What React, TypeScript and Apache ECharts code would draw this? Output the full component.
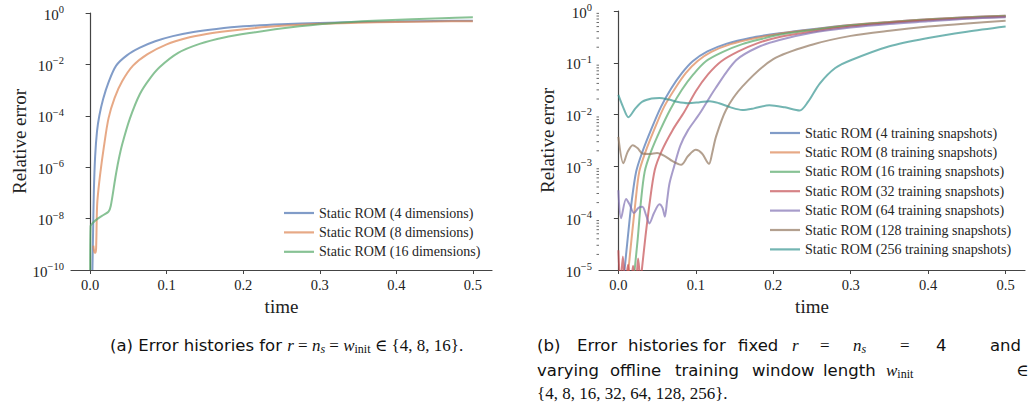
import React, { useEffect, useRef } from "react";
import * as echarts from "echarts";

const SERIF = "'Liberation Serif', 'DejaVu Serif', serif";
const SANS = "'DejaVu Sans', 'Liberation Sans', sans-serif";

// tick values
const timeTicks = [0, 0.1, 0.2, 0.3, 0.4, 0.5];
const errTicksA = [1e-10, 1e-8, 1e-6, 1e-4, 1e-2, 1];
const errTicksB = [1e-5, 1e-4, 1e-3, 1e-2, 1e-1, 1];

// ---- panel (a): [time, log10(relative error)] ----
const rom4Dims = [
  [0.003, -10], [0.0038, -8.6], [0.0048, -7.0], [0.0065, -5.6], [0.009, -4.6], [0.012, -4.0],
  [0.017, -3.35], [0.024, -2.7], [0.034, -2.05], [0.048, -1.65], [0.065, -1.35], [0.085, -1.1],
  [0.108, -0.9], [0.135, -0.74], [0.165, -0.62], [0.2, -0.52], [0.25, -0.44], [0.3, -0.39],
  [0.35, -0.35], [0.4, -0.33], [0.45, -0.31], [0.5, -0.3],
];
const rom8Dims = [
  [0.0042, -9.05], [0.0055, -9.3], [0.0068, -9.33], [0.0078, -9.15], [0.0087, -7.9], [0.0095, -7.3],
  [0.013, -6.3], [0.018, -5.2], [0.024, -4.1], [0.032, -3.3], [0.042, -2.65], [0.056, -2.05],
  [0.075, -1.6], [0.1, -1.22], [0.125, -0.98], [0.152, -0.82], [0.18, -0.7], [0.21, -0.6],
  [0.25, -0.5], [0.3, -0.42], [0.35, -0.38], [0.4, -0.35], [0.45, -0.33], [0.5, -0.32],
];
const rom16Dims = [
  [0, -10], [0.0006, -8.3], [0.004, -8.15], [0.01, -8.0], [0.018, -7.85], [0.024, -7.73],
  [0.027, -7.5], [0.033, -6.4], [0.037, -5.75], [0.042, -5.1], [0.052, -4.1], [0.065, -3.15],
  [0.078, -2.55], [0.091, -2.1], [0.115, -1.55], [0.143, -1.2], [0.175, -0.95], [0.213, -0.76],
  [0.26, -0.56], [0.32, -0.39], [0.37, -0.3], [0.42, -0.24], [0.46, -0.2], [0.5, -0.17],
];

// ---- panel (b): [time, log10(relative error)] ----
const snap4 = [
  [0.0055, -5.4], [0.008, -5.0], [0.012, -4.4], [0.017, -3.7], [0.023, -3.1], [0.031, -2.72],
  [0.042, -2.3], [0.055, -1.85], [0.068, -1.5], [0.082, -1.2], [0.096, -0.97], [0.115, -0.78],
  [0.14, -0.63], [0.17, -0.52], [0.208, -0.43], [0.25, -0.35], [0.3, -0.27], [0.35, -0.21],
  [0.4, -0.16], [0.45, -0.12], [0.5, -0.09],
];
const snap8 = [
  [0.0105, -5.4], [0.013, -5.0], [0.017, -4.4], [0.022, -3.7], [0.027, -3.1], [0.035, -2.72],
  [0.046, -2.3], [0.059, -1.85], [0.073, -1.5], [0.087, -1.2], [0.102, -0.97], [0.12, -0.79],
  [0.145, -0.64], [0.175, -0.53], [0.208, -0.44], [0.25, -0.36], [0.3, -0.27], [0.35, -0.21],
  [0.4, -0.16], [0.45, -0.12], [0.5, -0.09],
];
const snap16 = [
  [0.0185, -5.4], [0.021, -5.0], [0.025, -4.4], [0.029, -3.7], [0.034, -3.1], [0.042, -2.72],
  [0.054, -2.3], [0.067, -1.9], [0.082, -1.52], [0.097, -1.22], [0.113, -0.97], [0.135, -0.79],
  [0.16, -0.64], [0.185, -0.54], [0.208, -0.46], [0.25, -0.37], [0.3, -0.28], [0.35, -0.22],
  [0.4, -0.17], [0.45, -0.13], [0.5, -0.1],
];
const snap32 = [
  [0, -4.62], [0.0028, -5.3], [0.0058, -4.74], [0.009, -5.3], [0.0125, -4.9], [0.016, -5.3],
  [0.019, -4.92], [0.0225, -5.3], [0.0255, -4.78], [0.0285, -5.2], [0.031, -4.9], [0.035, -4.35],
  [0.04, -3.75], [0.047, -3.07], [0.056, -2.7], [0.07, -2.3], [0.085, -1.95], [0.1, -1.55],
  [0.116, -1.22], [0.133, -0.97], [0.155, -0.78], [0.18, -0.62], [0.208, -0.5], [0.25, -0.4],
  [0.3, -0.3], [0.35, -0.23], [0.4, -0.18], [0.45, -0.14], [0.5, -0.11],
];
const snap64 = [
  [0, -3.46], [0.0035, -4.0], [0.01, -3.63], [0.015, -3.75], [0.02, -3.9], [0.026, -3.8],
  [0.031, -3.78], [0.036, -3.95], [0.04, -4.1], [0.046, -3.9], [0.053, -3.73], [0.057, -3.8],
  [0.06, -3.97], [0.063, -3.65], [0.066, -3.33], [0.072, -3.0], [0.08, -2.6], [0.09, -2.3],
  [0.105, -1.98], [0.125, -1.5], [0.152, -0.95], [0.18, -0.7], [0.208, -0.56], [0.25, -0.42],
  [0.3, -0.32], [0.35, -0.25], [0.4, -0.2], [0.45, -0.15], [0.5, -0.12],
];
const snap128 = [
  [0, -2.43], [0.0065, -2.94], [0.012, -2.72], [0.0185, -2.59], [0.025, -2.65], [0.031, -2.75],
  [0.04, -2.76], [0.05, -2.74], [0.06, -2.8], [0.07, -2.9], [0.081, -2.97], [0.09, -2.8],
  [0.1, -2.68], [0.108, -2.75], [0.117, -2.95], [0.121, -2.75], [0.126, -2.43], [0.139, -1.91],
  [0.16, -1.46], [0.2, -0.93], [0.25, -0.65], [0.3, -0.48], [0.35, -0.38], [0.4, -0.3],
  [0.45, -0.24], [0.5, -0.19],
];
const snap256 = [
  [0, -1.62], [0.006, -1.85], [0.013, -2.05], [0.022, -1.88], [0.031, -1.75], [0.043, -1.69],
  [0.053, -1.68], [0.065, -1.71], [0.075, -1.75], [0.09, -1.78], [0.105, -1.76], [0.118, -1.74],
  [0.13, -1.78], [0.145, -1.86], [0.16, -1.91], [0.175, -1.88], [0.195, -1.82], [0.215, -1.86],
  [0.234, -1.92], [0.245, -1.75], [0.26, -1.4], [0.28, -1.1], [0.3, -0.95], [0.35, -0.68],
  [0.4, -0.52], [0.45, -0.4], [0.5, -0.3],
];

const namesA = ["Static ROM (4 dimensions)", "Static ROM (8 dimensions)", "Static ROM (16 dimensions)"];
const namesB = [
  "Static ROM (4 training snapshots)", "Static ROM (8 training snapshots)",
  "Static ROM (16 training snapshots)", "Static ROM (32 training snapshots)",
  "Static ROM (64 training snapshots)", "Static ROM (128 training snapshots)",
  "Static ROM (256 training snapshots)",
];
const seriesA = [rom4Dims, rom8Dims, rom16Dims];
const seriesB = [snap4, snap8, snap16, snap32, snap64, snap128, snap256];
const palette = [
  "rgba(76,114,176,0.7)", "rgba(221,132,82,0.7)", "rgba(85,168,104,0.7)",
  "rgba(196,78,82,0.7)", "rgba(129,114,179,0.7)", "rgba(147,120,96,0.7)",
  "rgba(55,150,145,0.7)",
];
const minorDecadesB = [1e-5, 1e-4, 1e-3, 1e-2, 1e-1];
const minorMultipliers = [2, 3, 4, 5, 6, 7, 8, 9];

const AX = "#444";
const TXT = "#222";

function expLabel(v: number) {
  const e = Math.round(Math.log10(v));
  const s = e < 0 ? "\u2212" + Math.abs(e) : String(e);
  return `{b|10}{s|${s}}`;
}
const expRich = {
  b: { fontFamily: SERIF, fontSize: 15, color: TXT, lineHeight: 18, padding: [3, 0, 0, 0] },
  s: { fontFamily: SERIF, fontSize: 10.5, color: TXT, lineHeight: 10, verticalAlign: "top" },
};

function xAxisCfg(gridIndex: number) {
  return {
    gridIndex, type: "value", min: -0.025, max: 0.525,
    axisLine: { show: true, lineStyle: { color: AX, width: 1.2 } },
    axisTick: { show: true, customValues: timeTicks, length: 4, lineStyle: { color: AX, width: 1 } },
    axisLabel: {
      customValues: timeTicks, formatter: (v: number) => v.toFixed(1), margin: 7,
      fontFamily: SERIF, fontSize: 14.5, color: TXT,
    },
    splitLine: { show: false },
    name: "time", nameLocation: "middle", nameGap: 21,
    nameTextStyle: { fontFamily: SERIF, fontSize: 19, color: TXT, verticalAlign: "top" },
  };
}
function yAxisCfg(gridIndex: number, ticks: number[], gap: number) {
  return {
    gridIndex, type: "log", logBase: 10, min: ticks[0], max: 1,
    axisLine: { show: true, lineStyle: { color: AX, width: 1.2 } },
    axisTick: { show: true, customValues: ticks, length: 4.5, lineStyle: { color: AX, width: 1 } },
    axisLabel: { customValues: ticks, formatter: expLabel, rich: expRich, margin: 7 },
    splitLine: { show: false },
    minorTick: { show: false },
    name: "Relative error", nameLocation: "middle", nameGap: gap, nameRotate: 90,
    nameTextStyle: { fontFamily: SERIF, fontSize: 19, color: TXT },
  };
}

function lineSeries(name: string, pts: number[][], color: string, idx: number) {
  return {
    type: "line", name, xAxisIndex: idx, yAxisIndex: idx,
    data: pts.map(([t, e]) => [t, Math.pow(10, e)]),
    symbol: "none", showSymbol: false, smooth: 0.3, clip: true,
    lineStyle: { width: 2, color }, itemStyle: { color },
  };
}

const capRich = {
  t: { fontFamily: SANS, fontSize: 16.5, lineHeight: 20, fill: "#111" },
  i: { fontFamily: SERIF, fontStyle: "italic", fontSize: 17, lineHeight: 20, fill: "#111" },
  si: { fontFamily: SERIF, fontStyle: "italic", fontSize: 12, lineHeight: 12, verticalAlign: "bottom", fill: "#111" },
  sr: { fontFamily: SERIF, fontSize: 12, lineHeight: 12, verticalAlign: "bottom", fill: "#111" },
};

function capText(text: string, x: number, y: number, math = false) {
  return {
    type: "text", x, y, silent: true,
    style: {
      text, x: 0, y: 0, verticalAlign: "middle", align: "left",
      fontFamily: math ? SERIF : SANS, fontSize: math ? 17 : 16.5, lineHeight: 20,
      fill: "#111", rich: capRich,
    },
  };
}

const capB: [string, number, number, boolean][] = [
  ["(b)", 537, 345, false], ["Error", 577, 345, false], ["histories", 628, 345, false],
  ["for", 703, 345, false], ["fixed", 738, 345, false], ["{i|r}", 792, 345, true],
  ["=", 820, 345, true], ["{i|n}{si|s}", 853, 345, true], ["=", 900, 345, true],
  ["4", 936, 345, false], ["and", 990, 345, false],
  ["varying", 537, 370, false], ["offline", 610, 370, false], ["training", 675, 370, false],
  ["window", 752, 370, false], ["length", 823, 370, false], ["{i|w}{sr|init}", 886, 370, true],
  ["\u2208", 1016, 370, true],
  ["{4, 8, 16, 32, 64, 128, 256}.", 537, 393, true],
];

export default function App() {
  const ref = useRef<HTMLDivElement>(null);
  useEffect(() => {
    if (!ref.current) return;
    const chart = echarts.init(ref.current, undefined, { renderer: "svg" });
    const minorTicks: number[][] = [];
    minorDecadesB.forEach((d) => minorMultipliers.forEach((m) => minorTicks.push([-0.025, d * m])));
    const legendCommon = {
      orient: "vertical", icon: "rect", itemWidth: 30, itemHeight: 2.2, itemGap: 5.4,
      textStyle: { fontFamily: SERIF, fontSize: 14, color: "#262626", lineHeight: 14 },
      selectedMode: false,
    };
    const option: any = {
      animation: false,
      backgroundColor: "#fff",
      grid: [
        { left: 71, top: 13, width: 421, height: 257, containLabel: false },
        { left: 599, top: 11, width: 426, height: 259, containLabel: false },
      ],
      xAxis: [xAxisCfg(0), xAxisCfg(1)],
      yAxis: [yAxisCfg(0, errTicksA, 40), yAxisCfg(1, errTicksB, 42)],
      legend: [
        { ...legendCommon, left: 279, top: 201, data: namesA },
        { ...legendCommon, left: 765, top: 121, data: namesB },
      ],
      series: [
        ...seriesA.map((s, i) => lineSeries(namesA[i], s, palette[i], 0)),
        ...seriesB.map((s, i) => lineSeries(namesB[i], s, palette[i], 1)),
        {
          type: "custom", xAxisIndex: 1, yAxisIndex: 1, silent: true, clip: false,
          data: minorTicks,
          renderItem: (_p: any, api: any) => {
            const p = api.coord([api.value(0), api.value(1)]);
            return {
              type: "line",
              shape: { x1: p[0] - 2.5, y1: p[1], x2: p[0], y2: p[1] },
              style: { stroke: AX, lineWidth: 0.8 },
            };
          },
        },
      ],
      graphic: [
        capText(
          "{t|(a) Error histories for }{i|r} = {i|n}{si|s} = {i|w}{sr|init} \u2208 {4, 8, 16}.",
          110, 345, true
        ),
        ...capB.map(([t, x, y, m]) => capText(t, x, y, m)),
      ],
    };
    chart.setOption(option);
    return () => chart.dispose();
  }, []);
  return (
    <div
      ref={ref}
      style={{ position: "absolute", left: 0, top: 0, width: 1029, height: 409 }}
    />
  );
}
